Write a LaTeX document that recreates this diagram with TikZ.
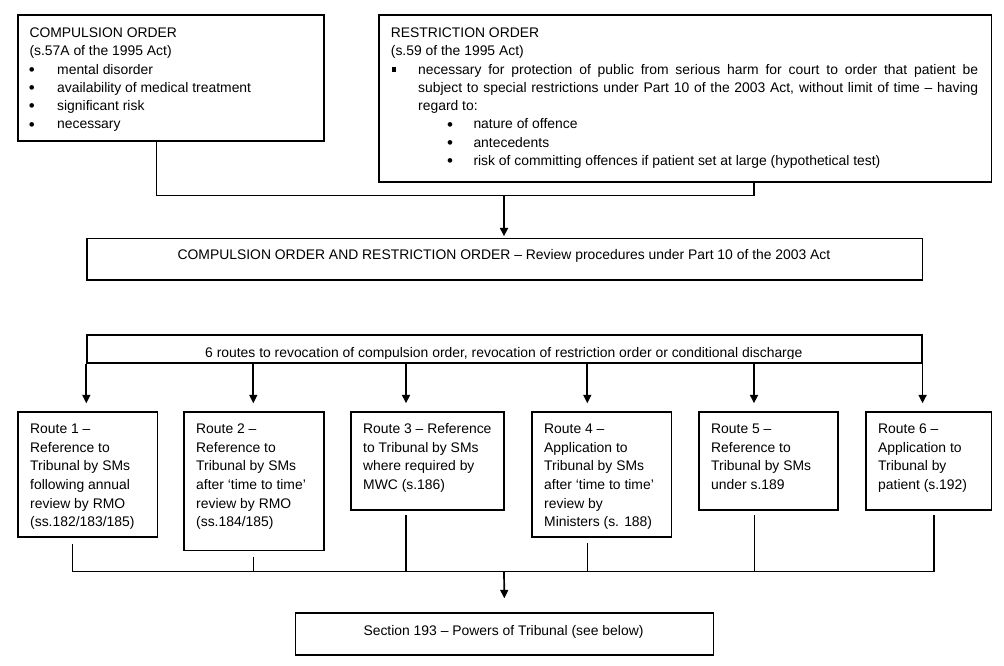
\documentclass[tikz,border=0pt]{standalone}
\usepackage{fontspec}
\setmainfont{Liberation Sans}
\usetikzlibrary{arrows.meta}
\newcommand\bigbul{\raisebox{-1.2pt}{\fontsize{17}{17}\selectfont •}}
\newcommand\cbul{\makebox[27.7pt][l]{\hspace{-0.6pt}\bigbul}}
\newcommand\sbul{\hspace*{56.3pt}\makebox[26.3pt][l]{\bigbul}}
\newcommand\sqbul{\makebox[27.3pt][l]{\hspace{0.6pt}\rule[2.4pt]{4.3pt}{4.3pt}}}
\newcommand\txtlines[1]{\begin{tabular}[t]{@{}l@{}}#1\end{tabular}}
\begin{document}
\begin{tikzpicture}[x=1pt,y=-1pt,
  box/.style={draw, line width=1.3pt, inner sep=0pt, anchor=north west},
  conn/.style={line width=1.3pt},
  arr/.style={line width=1.7pt, -{Triangle[length=8.5pt,width=8pt]}},
  txt/.style={inner sep=0pt, anchor=base west, font=\fontsize{13.9}{18.3}\selectfont},
  rtxt/.style={txt, font=\fontsize{13.9}{18.7}\selectfont},
  ctxt/.style={inner sep=0pt, anchor=base, font=\fontsize{13.9}{18.3}\selectfont}]
\useasboundingbox (0,0) rectangle (1004,666);

% boxes
\node[box, minimum width=306pt, minimum height=126pt] (co) at (17.3,14.3) {};
\node[box, minimum width=612.4pt, minimum height=167pt] (ro) at (378.3,14.3) {};
\node[box, minimum width=835.4pt, minimum height=41.8pt] (mid) at (86.3,237.5) {};
\node[box, minimum width=835pt, minimum height=28pt] (bar) at (86.3,334.3) {};
\node[box, minimum width=139.4pt, minimum height=125pt] (r1) at (17.3,411.3) {};
\node[box, minimum width=140pt, minimum height=138.7pt] (r2) at (183.3,411.3) {};
\node[box, minimum width=153pt, minimum height=98pt] (r3) at (350.3,411.3) {};
\node[box, minimum width=139.4pt, minimum height=125pt] (r4) at (531.3,411.3) {};
\node[box, minimum width=139pt, minimum height=98pt] (r5) at (698.3,411.3) {};
\node[box, minimum width=125.4pt, minimum height=98pt] (r6) at (865.3,411.3) {};
\node[box, minimum width=417.7pt, minimum height=42pt] (sec) at (295,612.3) {};

% texts
\node[txt] (cot) at (29.3,37.5) {\txtlines{COMPULSION ORDER\\(s.57A of the 1995 Act)\\\cbul mental disorder\\\cbul availability of medical treatment\\\cbul significant risk\\\cbul necessary}};
\node[txt] (rot) at (390.7,37.5) {\txtlines{RESTRICTION ORDER\\(s.59 of the 1995 Act)\\
\sqbul\makebox[560pt][s]{necessary for protection of public from serious harm for court to order that patient be}\\
\hspace*{27.3pt}\makebox[560pt][s]{subject to special restrictions under Part 10 of the 2003 Act, without limit of time – having}\\
\hspace*{27.3pt}regard to:\\
\sbul nature of offence\\
\sbul antecedents\\
\sbul risk of committing offences if patient set at large (hypothetical test)}};
\node[ctxt] (midt) at (504,259) {COMPULSION ORDER AND RESTRICTION ORDER – Review procedures under Part 10 of the 2003 Act};
\begin{scope}
\clip (80,330) rectangle (930,358.3);
\node[ctxt] (bart) at (503.8,357.7) {6 routes to revocation of compulsion order, revocation of restriction order or conditional discharge};
\end{scope}
\node[rtxt] (r1t) at (30,433.3) {\txtlines{Route 1 –\\Reference to\\Tribunal by SMs\\following annual\\review by RMO\\(ss.182/183/185)}};
\node[rtxt] (r2t) at (196,433.3) {\txtlines{Route 2 –\\Reference to\\Tribunal by SMs\\after ‘time to time’\\review by RMO\\(ss.184/185)}};
\node[rtxt] (r3t) at (363,433.3) {\txtlines{Route 3 – Reference\\to Tribunal by SMs\\where required by\\MWC (s.186)}};
\node[rtxt] (r4t) at (544,433.3) {\txtlines{Route 4 –\\Application to\\Tribunal by SMs\\after ‘time to time’\\review by\\Ministers (s. 188)}};
\node[rtxt] (r5t) at (711,433.3) {\txtlines{Route 5 –\\Reference to\\Tribunal by SMs\\under s.189}};
\node[rtxt] (r6t) at (878,433.3) {\txtlines{Route 6 –\\Application to\\Tribunal by\\patient (s.192)}};
\node[ctxt] (sect) at (503.5,635) {Section 193 – Powers of Tribunal (see below)};

% top connector
\coordinate (j1) at (156.3,195.7);
\coordinate (j2) at (754,195.7);
\coordinate (j3) at (504,195.7);
\draw[conn] (co.south -| j1) -- (j1) -- (j2) -- (ro.south -| j2);
\draw[arr, shorten >=1.2pt] (j3) -- (j3 |- mid.north);

% arrows from bar
\coordinate (b2) at (253.3,362.3);
\coordinate (b3) at (406,362.3);
\coordinate (b4) at (587.3,362.3);
\coordinate (b5) at (754,362.3);
\draw[arr, shorten >=8pt] (bar.south west) -- (bar.south west |- r1.north);
\draw[arr, shorten >=8pt] (b2) -- (b2 |- r2.north);
\draw[arr, shorten >=8pt] (b3) -- (b3 |- r3.north);
\draw[arr, shorten >=8pt] (b4) -- (b4 |- r4.north);
\draw[arr, shorten >=8pt] (b5) -- (b5 |- r5.north);
\draw[arr, shorten >=8pt] (bar.south east) -- (bar.south east |- r6.north);

% bottom connectors
\coordinate (c1) at (72.3,544);
\coordinate (c2) at (253.3,556.7);
\coordinate (c3) at (406,515);
\coordinate (c4) at (587.3,543.3);
\coordinate (c5) at (754.3,515);
\coordinate (c6) at (934,515);
\coordinate (h) at (504,571.5);
\draw[conn] (c1) -- (c1 |- h);
\draw[conn] (c2) -- (c2 |- h);
\draw[conn] (c3) -- (c3 |- h);
\draw[conn] (c4) -- (c4 |- h);
\draw[conn] (c5) -- (c5 |- h);
\draw[conn] (c6) -- (c6 |- h);
\draw[conn] (c1 |- h) -- (c6 |- h);
\draw[arr, shorten >=14pt] (h) -- (sec.north);
\end{tikzpicture}
\end{document}
